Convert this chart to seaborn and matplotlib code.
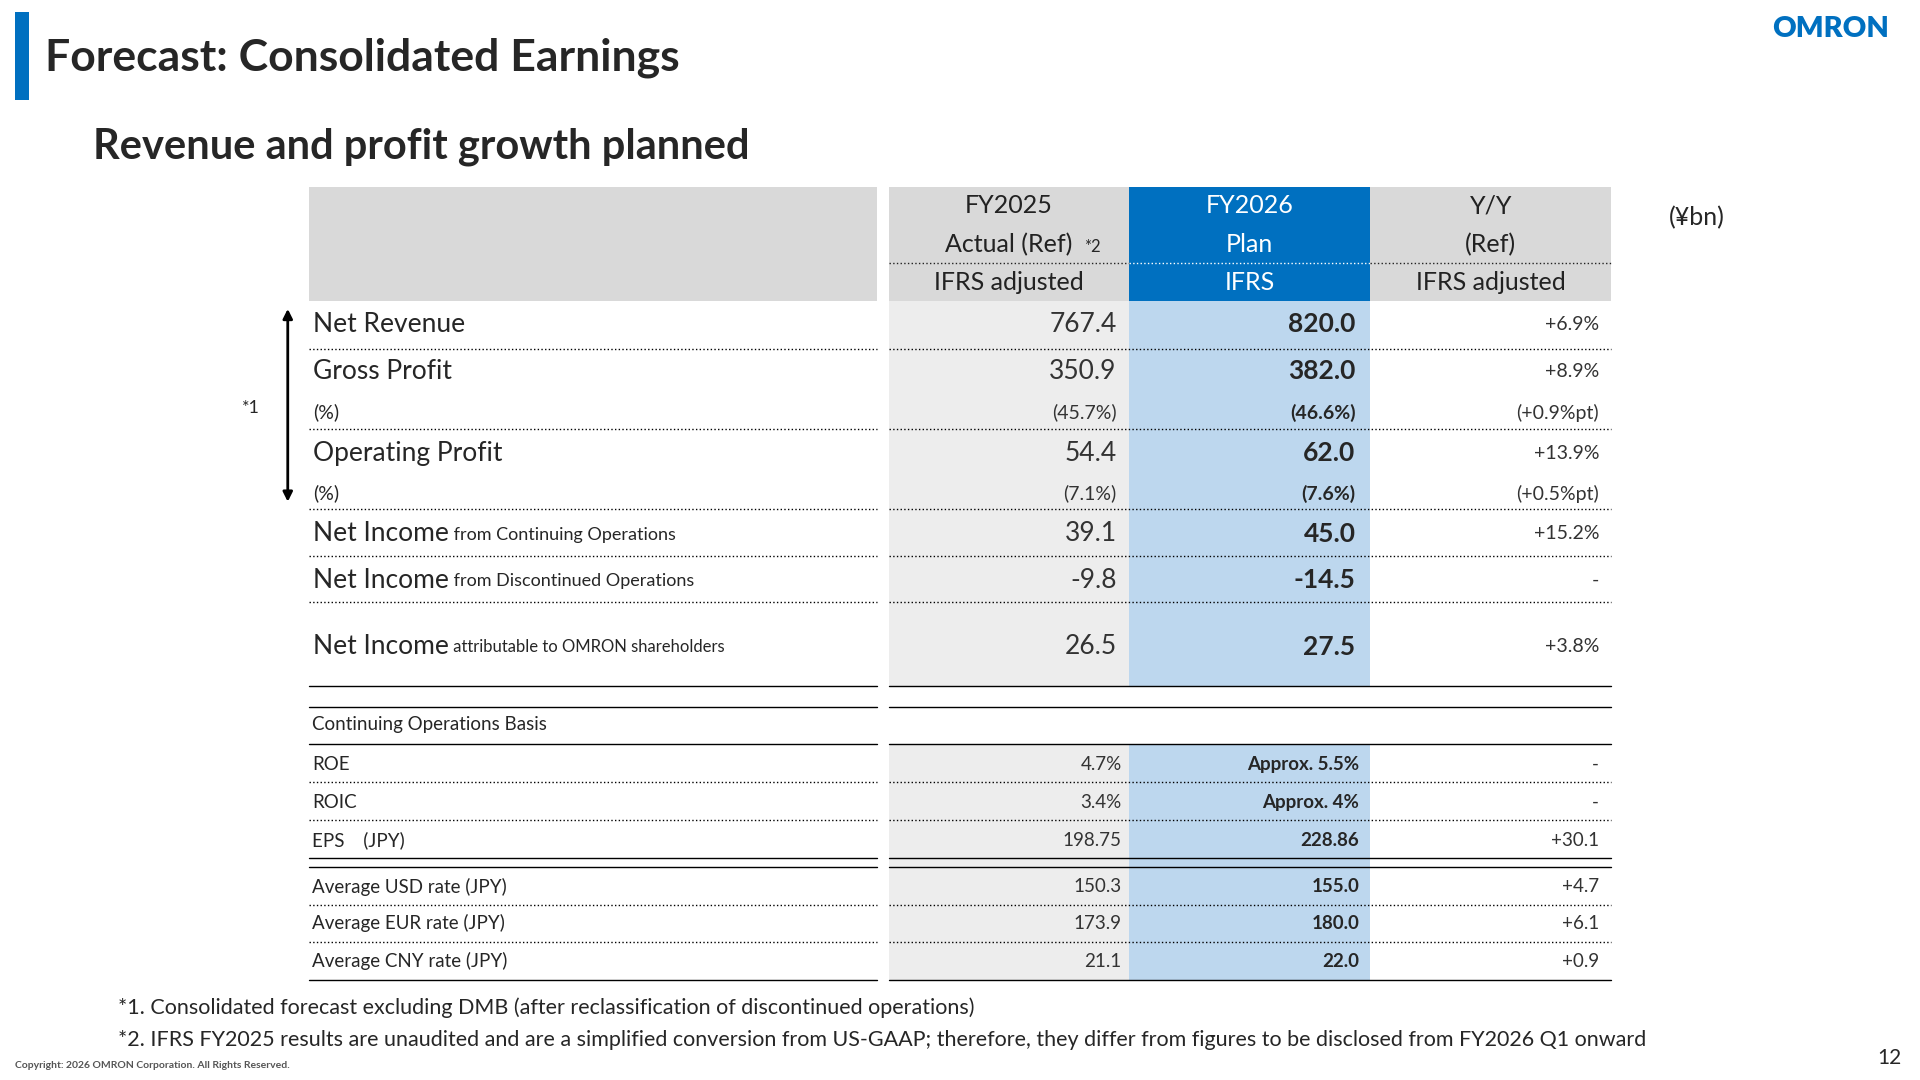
import matplotlib
matplotlib.use("Agg")
import matplotlib.pyplot as plt
import seaborn as sns

sns.set_theme(style="white")
plt.rcParams['font.family'] = ['Lato', 'Noto Sans CJK JP', 'DejaVu Sans']

# ---- data ----
header_cols = [["FY2025", "Actual (Ref)", "IFRS adjusted"],
               ["FY2026", "Plan", "IFRS"],
               ["Y/Y", "(Ref)", "IFRS adjusted"]]
main_labels = ["Net Revenue", "Gross Profit", "(%)", "Operating Profit", "(%)",
               "Net Income", "Net Income", "Net Income"]
main_suffix = ["", "", "", "", "", "from Continuing Operations",
               "from Discontinued Operations", "attributable to OMRON shareholders"]
fy2025 = ["767.4", "350.9", "(45.7%)", "54.4", "(7.1%)", "39.1", "-9.8", "26.5"]
fy2026 = ["820.0", "382.0", "(46.6%)", "62.0", "(7.6%)", "45.0", "-14.5", "27.5"]
yoy = ["+6.9%", "+8.9%", "(+0.9%pt)", "+13.9%", "(+0.5%pt)", "+15.2%", "-", "+3.8%"]

sub_labels = ["ROE", "ROIC", "EPS\u3000(JPY)", "Average USD rate (JPY)",
              "Average EUR rate (JPY)", "Average CNY rate (JPY)"]
sub_fy2025 = ["4.7%", "3.4%", "198.75", "150.3", "173.9", "21.1"]
sub_fy2026 = ["Approx. 5.5%", "Approx. 4%", "228.86", "155.0", "180.0", "22.0"]
sub_yoy = ["-", "-", "+30.1", "+4.7", "+6.1", "+0.9"]

# ---- layout (reference pixel space 1568 x 882) ----
fig = plt.figure(figsize=(19.2, 10.8), dpi=100)
ax = fig.add_axes([0, 0, 1, 1])
ax.set_xlim(0, 1568)
ax.set_ylim(882, 0)
ax.axis("off")

BLUE = "#0070c0"
LBLUE = "#bdd7ee"
GRAY = "#d9d9d9"
LGRAY = "#ededed"
L0, L1 = 252, 716
C = [(726, 922), (922, 1119), (1119, 1316)]

def rect(x0, x1, y0, y1, c):
    ax.fill_between([x0, x1], y0, y1, color=c, lw=0, zorder=0)

def hline(x0, x1, y, ls=":", lw=1.0):
    ax.plot([x0, x1], [y, y], color="black", ls=ls, lw=lw, zorder=2)

# title
rect(12, 24, 10, 82, BLUE)
ax.text(37, 47, "Forecast: Consolidated Earnings", fontsize=32, fontweight="bold", va="center")
ax.text(76, 120, "Revenue and profit growth planned", fontsize=30, fontweight="bold", va="center")
ax.text(1495, 24, "OMRON", fontsize=21, fontweight="heavy", color=BLUE, va="center", ha="center")
ax.text(1386, 178, "(¥bn)", fontsize=18, va="center", ha="center")

# header
rect(L0, L1, 153, 246, GRAY)
rect(C[0][0], C[0][1], 153, 246, GRAY)
rect(C[1][0], C[1][1], 153, 246, BLUE)
rect(C[2][0], C[2][1], 153, 246, GRAY)
for (x0, x1), lines in zip(C, header_cols):
    col = "white" if lines[0] == "FY2026" else "#222222"
    xm = (x0 + x1) / 2
    for y, t in zip([168, 200, 231], lines):
        ax.text(xm, y, t, fontsize=18, ha="center", va="center", color=col)
    ax.plot([x0, x1], [215, 215], color=col, ls=":", lw=1.0)
ax.text(892, 202, "*2", fontsize=12, ha="center", va="center")

# body backgrounds
rect(C[0][0], C[0][1], 246, 560, LGRAY)
rect(C[1][0], C[1][1], 246, 560, LBLUE)
rect(C[0][0], C[0][1], 608, 800, LGRAY)
rect(C[1][0], C[1][1], 608, 800, LBLUE)

row_y = [265, 303, 337, 370, 403, 436, 474, 528]
line_y = [285, None, 350, None, 416, 454, 492, 560]
for i, y in enumerate(row_y):
    small = main_labels[i] == "(%)"
    fs = 14 if small else 19
    t = ax.text(256, y, main_labels[i], fontsize=fs, va="center")
    if main_suffix[i]:
        ax.annotate(" " + main_suffix[i], xycoords=t, xy=(1, 0.15), fontsize=13 if i < 7 else 12,
                    va="bottom")
    ax.text(912, y, fy2025[i], fontsize=fs, ha="right", va="center", color="#333333")
    ax.text(1107, y, fy2026[i], fontsize=fs, ha="right", va="center", fontweight="bold")
    ax.text(1306, y, yoy[i], fontsize=14, ha="right", va="center", color="#333333")
    if line_y[i]:
        ls = "-" if i == 7 else ":"
        hline(L0, L1, line_y[i], ls)
        hline(C[0][0], C[2][1], line_y[i], ls)

# arrow *1
ax.annotate("", xy=(235, 250), xytext=(235, 412),
            arrowprops=dict(arrowstyle="<|-|>", color="black", lw=2, mutation_scale=14))
ax.text(205, 333, "*1", fontsize=13, ha="center", va="center")

# lower section
hline(L0, L1, 577, "-")
hline(C[0][0], C[2][1], 577, "-")
ax.text(255, 592, "Continuing Operations Basis", fontsize=13.5, va="center")
hline(L0, L1, 608, "-")
hline(C[0][0], C[2][1], 608, "-")
sub_y = [624, 655, 686, 724, 754, 785]
sub_line = [639, 670, None, 739, 769, 800]
for i, y in enumerate(sub_y):
    ax.text(255, y, sub_labels[i], fontsize=13.5, va="center")
    ax.text(916, y, sub_fy2025[i], fontsize=13.5, ha="right", va="center", color="#333333")
    ax.text(1110, y, sub_fy2026[i], fontsize=13.5, ha="right", va="center", fontweight="bold")
    ax.text(1306, y, sub_yoy[i], fontsize=13.5, ha="right", va="center", color="#333333")
    if sub_line[i]:
        ls = "-" if i == 5 else ":"
        hline(L0, L1, sub_line[i], ls)
        hline(C[0][0], C[2][1], sub_line[i], ls)
for yy in (701, 708):
    hline(L0, L1, yy, "-")
    hline(C[0][0], C[2][1], yy, "-")

# footnotes
ax.text(96, 823, "*1. Consolidated forecast excluding DMB (after reclassification of discontinued operations)",
        fontsize=15.5, va="center")
ax.text(96, 849, "*2. IFRS FY2025 results are unaudited and are a simplified conversion from US-GAAP; "
        "therefore, they differ from figures to be disclosed from FY2026 Q1 onward", fontsize=15.5, va="center")
ax.text(12, 870, "Copyright: 2026 OMRON Corporation. All Rights Reserved.", fontsize=7.5,
        fontweight="bold", color="#555555", va="center")
ax.text(1543, 864, "12", fontsize=15, ha="center", va="center")

fig.savefig("out.png", dpi=100)
